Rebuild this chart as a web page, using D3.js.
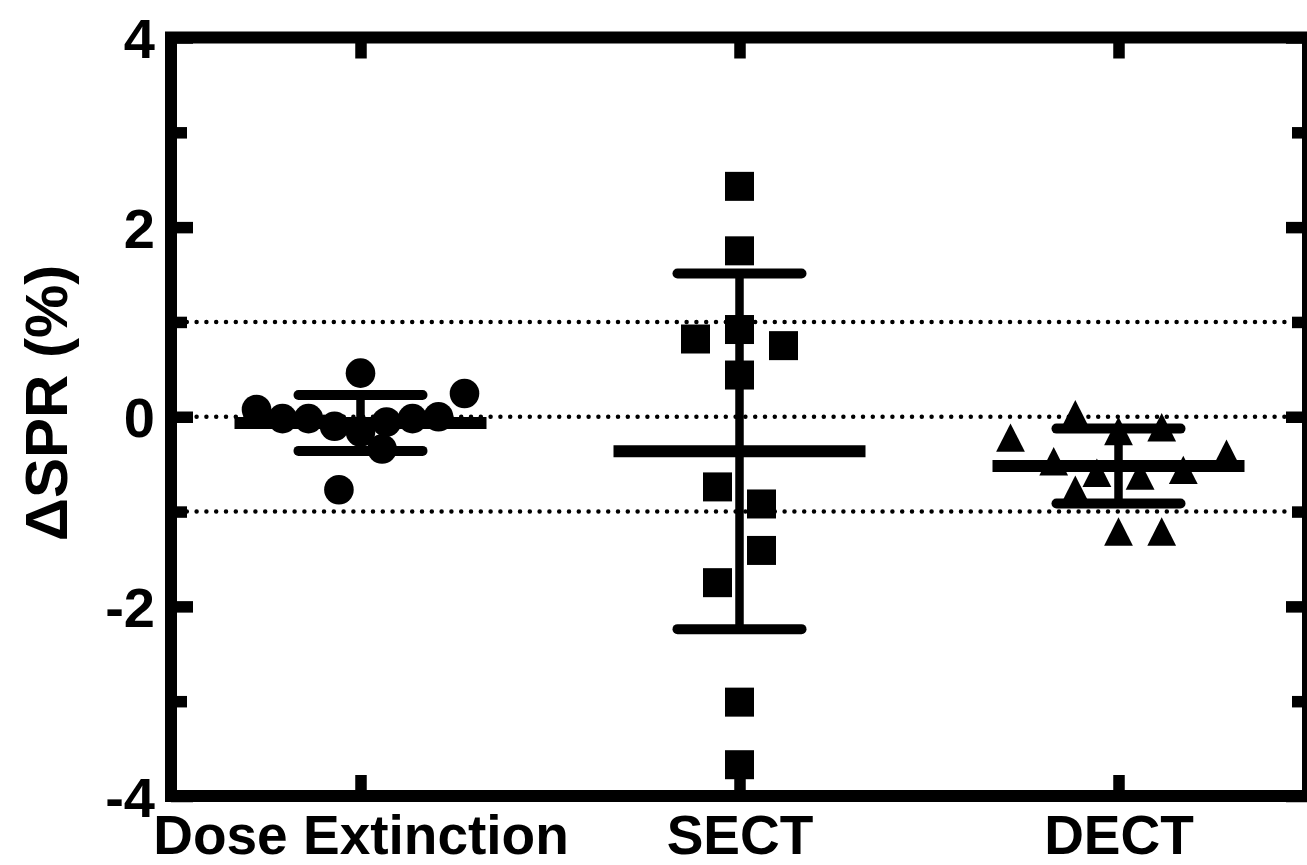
<!DOCTYPE html>
<html>
<head>
<meta charset="utf-8">
<script src="https://cdn.jsdelivr.net/npm/d3@7"></script>
<style>
  body { margin: 0; background: #fff; }
  text { font-family: "Liberation Sans", Arial, sans-serif; font-weight: bold; fill: #000; }
</style>
</head>
<body>
<div id="chart"></div>
<script>
// groups and y ticks
const groups = ["Dose Extinction", "SECT", "DECT"];
const majorTicks = [-4, -2, 0, 2, 4];
const minorTicks = [-3, -1, 1, 3];
const refLines = [-1, 0, 1];

// individual points (ΔSPR %), with column-scatter slot
const doseValues = [0.46, 0.245, 0.076, -0.02, -0.02, -0.10, -0.16, -0.34, -0.055, -0.02, 0.0, -0.77];
const doseSlots = [0, 4, -4, -3, -2, -1, 0, 0.83, 1, 2, 3, -0.83];
const sectValues = [2.43, 1.75, 0.82, 0.92, 0.75, 0.44, -0.74, -0.92, -1.41, -1.75, -3.01, -3.67];
const sectSlots = [0, 0, -2, 0, 2, 0, -1, 1, 1, -1, 0, 0];
const dectValues = [0.026, -0.22, -0.15, -0.11, -0.39, -0.47, -0.59, -0.62, -0.56, -0.77, -1.21, -1.21];
const dectSlots = [-2, -5, 0, 2, 5, -3, -1, 1, 3, -2, 0, 2];

// mean and SD bars
const means = [-0.065, -0.365, -0.52];
const sds = [0.295, 1.875, 0.395];

const W = 1307, H = 865;
const plot = { left: 171, right: 1308, top: 37.5, bottom: 796 };

const svg = d3.select("#chart").append("svg").attr("width", W).attr("height", H);

const x = d3.scalePoint().domain(groups).range([plot.left, plot.right]).padding(0.5);
const y = d3.scaleLinear().domain([-4, 4]).range([plot.bottom, plot.top]);

// dotted reference lines
svg.selectAll(".ref")
  .data(refLines)
  .enter()
  .append("line")
  .attr("x1", plot.left + 6)
  .attr("x2", plot.right - 6)
  .attr("y1", (d) => y(d))
  .attr("y2", (d) => y(d))
  .attr("stroke", "#000")
  .attr("stroke-width", 4.5)
  .attr("stroke-linecap", "round")
  .attr("stroke-dasharray", "0 9.8");

// frame
svg.append("rect")
  .attr("x", plot.left).attr("y", plot.top)
  .attr("width", plot.right - plot.left).attr("height", plot.bottom - plot.top)
  .attr("fill", "none").attr("stroke", "#000").attr("stroke-width", 12);

function styleAxis(g) {
  g.select(".domain").remove();
  g.selectAll(".tick line").attr("stroke", "#000").attr("stroke-width", 11.5);
}

// y axes (major with labels, minor without)
svg.append("g").attr("transform", `translate(${plot.left},0)`)
  .call(d3.axisLeft(y).tickValues(majorTicks).tickSize(-22).tickPadding(16).tickFormat((d) => String(d)))
  .call(styleAxis)
  .call((g) => g.selectAll("text").attr("font-size", 56).attr("font-family", null).attr("dy", "0.36em"));
svg.append("g").attr("transform", `translate(${plot.left},0)`)
  .call(d3.axisLeft(y).tickValues(minorTicks).tickSize(-16).tickFormat(""))
  .call(styleAxis);
svg.append("g").attr("transform", `translate(${plot.right},0)`)
  .call(d3.axisRight(y).tickValues(majorTicks).tickSize(-22).tickFormat(""))
  .call(styleAxis);
svg.append("g").attr("transform", `translate(${plot.right},0)`)
  .call(d3.axisRight(y).tickValues(minorTicks).tickSize(-16).tickFormat(""))
  .call(styleAxis);

// x axes
svg.append("g").attr("transform", `translate(0,${plot.bottom})`)
  .call(d3.axisBottom(x).tickSize(-21))
  .call(styleAxis)
  .call((g) => g.selectAll("text").attr("font-size", 55).attr("font-family", null).attr("y", 58).attr("dy", 0));
svg.append("g").attr("transform", `translate(0,${plot.top})`)
  .call(d3.axisTop(x).tickSize(-21).tickFormat(""))
  .call(styleAxis);

// y label
svg.append("text")
  .attr("transform", "translate(67,403) rotate(-90)")
  .attr("text-anchor", "middle")
  .attr("font-size", 60)
  .text("ΔSPR (%)");

// mean ± SD
const stats = groups.map((g, i) => ({ g, mean: means[i], sd: sds[i] }));
const bars = svg.append("g");
bars.selectAll(".mean").data(stats).enter().append("line")
  .attr("x1", (d) => x(d.g) - 126).attr("x2", (d) => x(d.g) + 126)
  .attr("y1", (d) => y(d.mean)).attr("y2", (d) => y(d.mean))
  .attr("stroke", "#000").attr("stroke-width", 12);
bars.selectAll(".vert").data(stats).enter().append("line")
  .attr("x1", (d) => x(d.g)).attr("x2", (d) => x(d.g))
  .attr("y1", (d) => y(d.mean + d.sd)).attr("y2", (d) => y(d.mean - d.sd))
  .attr("stroke", "#000").attr("stroke-width", 8.5);
bars.selectAll(".cap").data(stats.flatMap((d) => [d.mean + d.sd, d.mean - d.sd].map((v) => ({ g: d.g, v }))))
  .enter().append("line")
  .attr("x1", (d) => x(d.g) - 62).attr("x2", (d) => x(d.g) + 62)
  .attr("y1", (d) => y(d.v)).attr("y2", (d) => y(d.v))
  .attr("stroke", "#000").attr("stroke-width", 10).attr("stroke-linecap", "round");

// points
const pts = svg.append("g");
pts.selectAll("circle")
  .data(doseValues.map((v, i) => ({ v, s: doseSlots[i] })))
  .enter().append("circle")
  .attr("cx", (d) => x("Dose Extinction") + d.s * 26)
  .attr("cy", (d) => y(d.v))
  .attr("r", 14.8)
  .attr("fill", "#000");

pts.selectAll("rect")
  .data(sectValues.map((v, i) => ({ v, s: sectSlots[i] })))
  .enter().append("rect")
  .attr("x", (d) => x("SECT") + d.s * 22 - 14.5)
  .attr("y", (d) => y(d.v) - 14.5)
  .attr("width", 29).attr("height", 29)
  .attr("fill", "#000");

pts.selectAll("path")
  .data(dectValues.map((v, i) => ({ v, s: dectSlots[i] })))
  .enter().append("path")
  .attr("transform", (d) => `translate(${x("DECT") + d.s * 21.6},${y(d.v)})`)
  .attr("d", "M0,-14.2L14.4,14.2L-14.4,14.2Z")
  .attr("fill", "#000");
</script>
</body>
</html>
